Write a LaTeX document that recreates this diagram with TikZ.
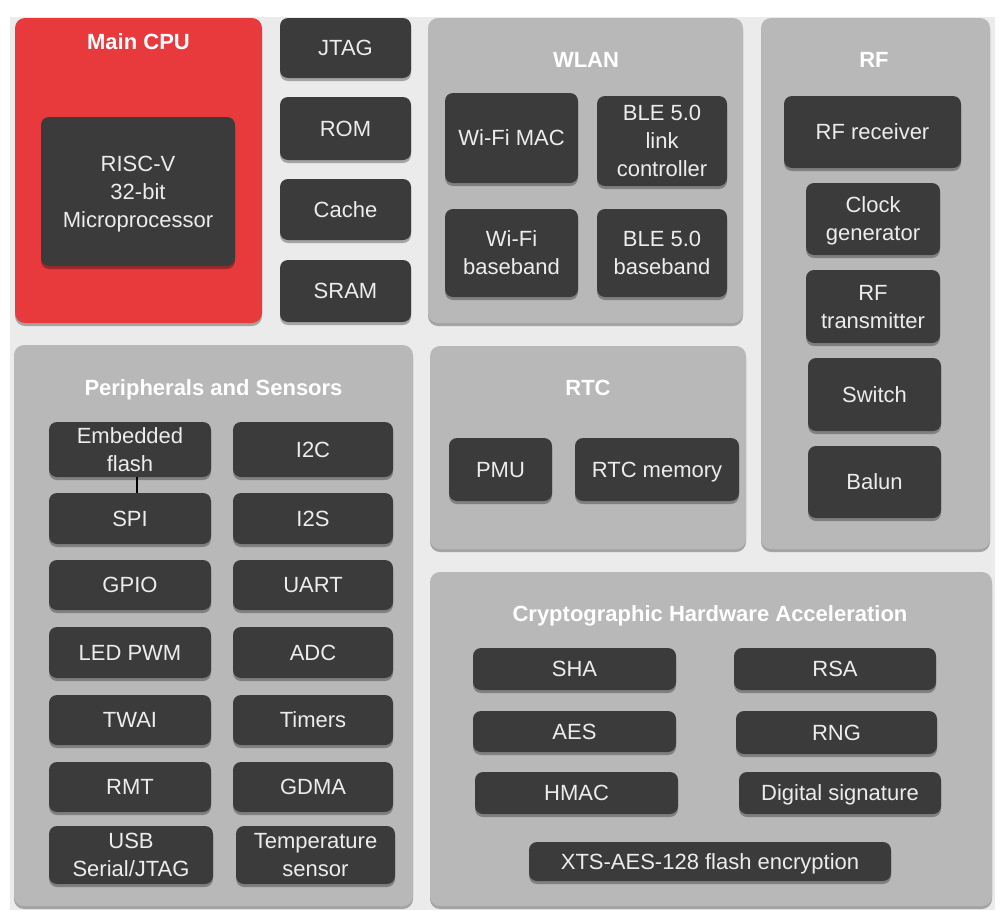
\documentclass[tikz,border=0pt]{standalone}
\usepackage{xcolor}
\usepackage{fontspec}
\setmainfont{Liberation Sans}
\usetikzlibrary{shadows}

\definecolor{cpured}{HTML}{E8393D}
\definecolor{panelgray}{HTML}{B8B8B8}
\definecolor{blkgray}{HTML}{3B3B3B}
\definecolor{blktext}{HTML}{ECECEC}
\definecolor{bggray}{HTML}{EBEBEB}

% strut centred on the capitals
\newcommand{\capstrut}{\rule[-5pt]{0pt}{25.8pt}}

\begin{document}
\begin{tikzpicture}[x=1pt,y=-1pt,
    panel/.style={rectangle,rounded corners=10pt,fill=panelgray,
        drop shadow={shadow xshift=0pt,shadow yshift=-3pt,fill=black,opacity=.3}},
    blk/.style={rectangle,rounded corners=8pt,fill=blkgray,text=blktext,align=center,
        inner sep=0pt,font=\fontsize{22}{28}\selectfont,
        drop shadow={shadow xshift=0pt,shadow yshift=-3pt,fill=black,opacity=.3}},
    ttl/.style={text=white,font=\bfseries\fontsize{22}{26}\selectfont}]

    % Background
    \useasboundingbox (0,0) rectangle (1008,918);
    \fill[white] (0,0) rectangle (1008,918);
    \fill[bggray] (10,17) rectangle (995,910);

    % Main CPU
    \node[panel,fill=cpured,minimum width=247pt,minimum height=305pt] (cpu) at (138.5,170.5) {};
    \node[ttl] (cputitle) at (138.5,42) {\capstrut Main CPU};
    \node[blk,minimum width=194pt,minimum height=149pt] (riscv) at (138,191.5) {\capstrut RISC-V\\32-bit\\Microprocessor\capstrut};

    % Memory column
    \node[blk,minimum width=131pt,minimum height=60pt] (jtag) at (345.5,48) {\capstrut JTAG};
    \node[blk,minimum width=131pt,minimum height=63pt] (rom) at (345.5,128.5) {\capstrut ROM};
    \node[blk,minimum width=131pt,minimum height=61pt] (cache) at (345.5,209.5) {\capstrut Cache};
    \node[blk,minimum width=131pt,minimum height=62pt] (sram) at (345.5,291) {\capstrut SRAM};

    % WLAN
    \node[panel,minimum width=315pt,minimum height=305pt] (wlan) at (585.5,170.5) {};
    \node[ttl] (wlantitle) at (586,60) {\capstrut WLAN};
    \node[blk,minimum width=133pt,minimum height=90pt] (wifimac) at (511.5,138) {\capstrut Wi-Fi MAC};
    \node[blk,minimum width=130pt,minimum height=90pt] (blelink) at (662,141) {\capstrut BLE 5.0\\link\\controller\capstrut};
    \node[blk,minimum width=133pt,minimum height=88pt] (wifibb) at (511.5,253) {\capstrut Wi-Fi\\baseband\capstrut};
    \node[blk,minimum width=130pt,minimum height=88pt] (blebb) at (662,253) {\capstrut BLE 5.0\\baseband\capstrut};

    % RF
    \node[panel,minimum width=229pt,minimum height=531pt] (rf) at (875.5,283.5) {};
    \node[ttl] (rftitle) at (874,60) {\capstrut RF};
    \node[blk,minimum width=177pt,minimum height=72pt] (rfrx) at (872.5,132) {\capstrut RF receiver};
    \node[blk,minimum width=134pt,minimum height=72pt] (clkgen) at (873,219) {\capstrut Clock\\generator\capstrut};
    \node[blk,minimum width=134pt,minimum height=73pt] (rftx) at (873,306.5) {\capstrut RF\\transmitter\capstrut};
    \node[blk,minimum width=133pt,minimum height=73pt] (switch) at (874.5,394.5) {\capstrut Switch};
    \node[blk,minimum width=133pt,minimum height=72pt] (balun) at (874.5,482) {\capstrut Balun};

    % RTC
    \node[panel,minimum width=316pt,minimum height=203pt] (rtc) at (588,447.5) {};
    \node[ttl] (rtctitle) at (588,388) {\capstrut RTC};
    \node[blk,minimum width=103pt,minimum height=63pt] (pmu) at (500.5,469.5) {\capstrut PMU};
    \node[blk,minimum width=164pt,minimum height=63pt] (rtcmem) at (657,469.5) {\capstrut RTC memory};

    % Peripherals and Sensors
    \node[panel,minimum width=399pt,minimum height=561pt] (periph) at (213.5,625.5) {};
    \node[ttl] (periphtitle) at (213.5,388) {\capstrut Peripherals and Sensors};
    \node[blk,minimum width=162pt,minimum height=55pt] (flash) at (130,449.5) {\capstrut Embedded\\flash\capstrut};
    \node[blk,minimum width=160pt,minimum height=55pt] (itwoc) at (313,449.5) {\capstrut I2C};
    \node[blk,minimum width=162pt,minimum height=51pt] (spi) at (130,518.5) {\capstrut SPI};
    \node[blk,minimum width=160pt,minimum height=51pt] (itwos) at (313,518.5) {\capstrut I2S};
    \node[blk,minimum width=162pt,minimum height=50pt] (gpio) at (130,585) {\capstrut GPIO};
    \node[blk,minimum width=160pt,minimum height=50pt] (uart) at (313,585) {\capstrut UART};
    \node[blk,minimum width=162pt,minimum height=51pt] (ledpwm) at (130,652.5) {\capstrut LED PWM};
    \node[blk,minimum width=160pt,minimum height=51pt] (adc) at (313,652.5) {\capstrut ADC};
    \node[blk,minimum width=162pt,minimum height=50pt] (twai) at (130,720) {\capstrut TWAI};
    \node[blk,minimum width=160pt,minimum height=50pt] (timers) at (313,720) {\capstrut Timers};
    \node[blk,minimum width=162pt,minimum height=50pt] (rmt) at (130,787) {\capstrut RMT};
    \node[blk,minimum width=160pt,minimum height=50pt] (gdma) at (313,787) {\capstrut GDMA};
    \node[blk,minimum width=164pt,minimum height=58pt] (usb) at (131,855) {\capstrut USB\\Serial/JTAG\capstrut};
    \node[blk,minimum width=159pt,minimum height=58pt] (tsens) at (315.5,855) {\capstrut Temperature\\sensor\capstrut};
    \draw[line width=1.5pt] ([xshift=7pt]flash.south) -- ([xshift=7pt]spi.north);

    % Cryptographic Hardware Acceleration
    \node[panel,minimum width=562pt,minimum height=334pt] (crypto) at (711,739) {};
    \node[ttl] (cryptotitle) at (710,614) {\capstrut Cryptographic Hardware Acceleration};
    \node[blk,minimum width=203pt,minimum height=42pt] (sha) at (574.5,669) {\capstrut SHA};
    \node[blk,minimum width=202pt,minimum height=42pt] (rsa) at (835,669) {\capstrut RSA};
    \node[blk,minimum width=203pt,minimum height=41pt] (aes) at (574.5,731.5) {\capstrut AES};
    \node[blk,minimum width=201pt,minimum height=43pt] (rng) at (836.5,732.5) {\capstrut RNG};
    \node[blk,minimum width=203pt,minimum height=42pt] (hmac) at (576.5,793) {\capstrut HMAC};
    \node[blk,minimum width=202pt,minimum height=42pt] (digsig) at (840,793) {\capstrut Digital signature};
    \node[blk,minimum width=362pt,minimum height=39pt] (xts) at (710,861.5) {\capstrut XTS-AES-128 flash encryption};
\end{tikzpicture}
\end{document}
